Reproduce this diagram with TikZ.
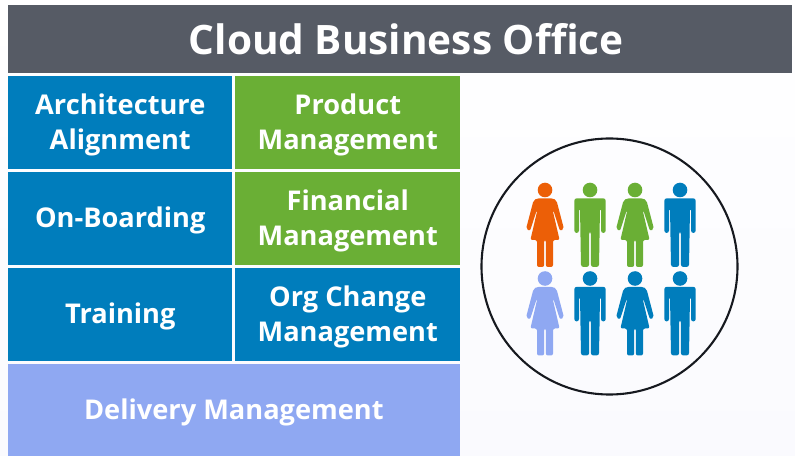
\documentclass[tikz,border=0pt]{standalone}
\usepackage{fontspec}
\setmainfont{Open Sans}
\definecolor{cbogray}{HTML}{565B65}
\definecolor{cboblue}{HTML}{007DBC}
\definecolor{cbogreen}{HTML}{6AAF35}
\definecolor{cbolilac}{HTML}{8FA8F2}
\definecolor{cboorange}{HTML}{EC5F07}
\definecolor{cboring}{HTML}{16191F}
\definecolor{cbotint}{HTML}{FAFAFE}
\newcommand\celltextstyle{\fontsize{27.3}{35}\selectfont\bfseries}
\newcommand\celllift{\rule{0pt}{25bp}}
\newcommand\cellwidth{225}
\newcommand\cellheight{93}
\newcommand\manfigure[3]{
  \begin{scope}[shift={(#1, #2)}]
    \fill[#3] (0, 0) circle (7.3) ;
    \fill[#3, rounded corners=2.5] (-15.7, 8.3) -- (15.7, 8.3) -- (15.7, 43) -- (11, 43) -- (11, 18) -- (10, 18)
      -- (9, 77) -- (0.9, 77) -- (0.9, 41.5) -- (-0.9, 41.5) -- (-0.9, 77) -- (-9, 77) -- (-10, 18) -- (-11, 18)
      -- (-11, 43) -- (-15.7, 43) -- cycle ;
  \end{scope}
}
\newcommand\womanfigure[3]{
  \begin{scope}[shift={(#1, #2)}]
    \fill[#3] (0, 0) circle (7.3) ;
    \fill[#3, rounded corners=2] (-8, 8.3) -- (8, 8.3) -- (11.5, 10.5) -- (19, 39) -- (15, 41) -- (8.2, 20) -- (7.6, 20) -- (14.6, 50)
      -- (8, 50) -- (8, 77) -- (0.9, 77) -- (0.9, 50) -- (-0.9, 50) -- (-0.9, 77) -- (-8, 77) -- (-8, 50) -- (-14.6, 50)
      -- (-7.6, 20) -- (-8.2, 20) -- (-15, 41) -- (-19, 39) -- (-11.5, 10.5) -- cycle ;
  \end{scope}
}
\tikzset{
  cell/.style={anchor=north west, minimum width=\cellwidth, minimum height=\cellheight, inner sep=0,
    align=center, text=white, font=\celltextstyle},
}
\begin{document}
\begin{tikzpicture}[x=1bp, y=-1bp]
  \useasboundingbox (0, 0) rectangle (795, 456) ;
  \shade[top color=white, bottom color=cbotint] (0, 0) rectangle (795, 456) ;
  % title bar
  \node (title) [anchor=north west, minimum width=787, minimum height=68, inner sep=0, fill=cbogray, text=white,
    font=\fontsize{40.7}{48}\selectfont\bfseries] at (8, 5) {\hspace*{12bp}Cloud Business Office} ;
  % left column
  \node (arch) [cell, fill=cboblue] at (8, 76) {\celllift Architecture\\Alignment} ;
  \node (onboard) [cell, fill=cboblue] at (8, 172) {\celllift On-Boarding} ;
  \node (train) [cell, fill=cboblue] at (8, 268) {\celllift Training} ;
  % right column
  \node (prod) [cell, fill=cbogreen, minimum width=226] at (235, 76) {\celllift Product\\Management} ;
  \node (fin) [cell, fill=cbogreen, minimum width=226] at (235, 172) {\celllift Financial\\Management} ;
  \node (org) [cell, fill=cboblue, minimum width=226] at (235, 268) {\celllift Org Change\\Management} ;
  \node (delivery) [cell, fill=cbolilac, minimum width=453, minimum height=92] at (8, 364) {\celllift Delivery Management} ;
  % people
  \draw[cboring, line width=2.1] (609.5, 266.5) circle (128) ;
  \womanfigure{545}{190}{cboorange}
  \manfigure{590}{190}{cbogreen}
  \womanfigure{635}{190}{cbogreen}
  \manfigure{680}{190}{cboblue}
  \womanfigure{545}{278.5}{cbolilac}
  \manfigure{590}{278.5}{cboblue}
  \womanfigure{635}{278.5}{cboblue}
  \manfigure{680}{278.5}{cboblue}
\end{tikzpicture}
\end{document}
